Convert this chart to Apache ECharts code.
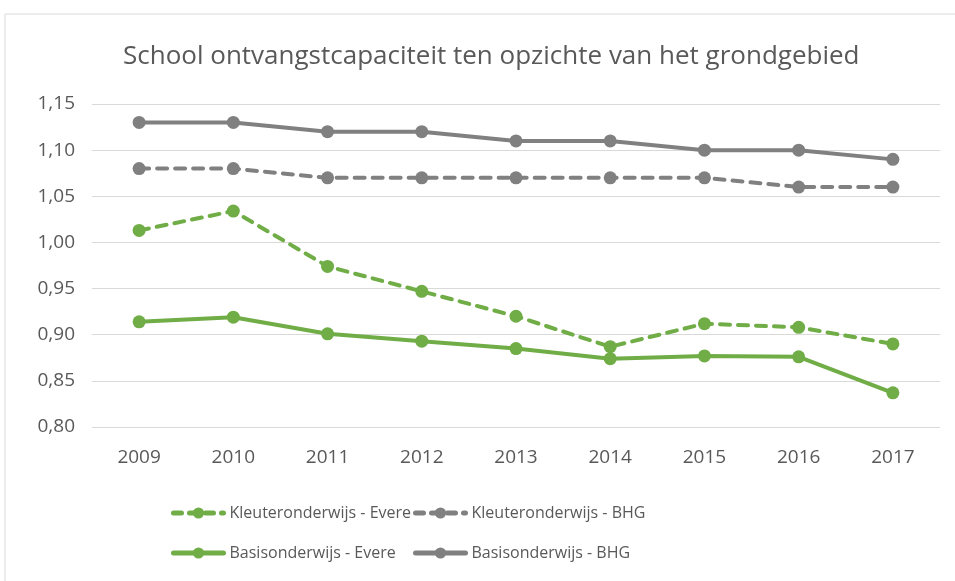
<!DOCTYPE html>
<html>
<head>
<meta charset="utf-8">
<script src="https://cdn.jsdelivr.net/npm/echarts@6/dist/echarts.min.js"></script>
<style>
html,body{margin:0;padding:0;background:#fff;}
#main{width:955px;height:581px;}
</style>
</head>
<body>
<div id="main"></div>
<script>
// data
var years = ['2009','2010','2011','2012','2013','2014','2015','2016','2017'];
var kleuterEvere = [1.013, 1.034, 0.974, 0.947, 0.920, 0.887, 0.912, 0.908, 0.890];
var kleuterBHG = [1.08, 1.08, 1.07, 1.07, 1.07, 1.07, 1.07, 1.06, 1.06];
var basisEvere = [0.914, 0.919, 0.901, 0.893, 0.885, 0.874, 0.877, 0.876, 0.837];
var basisBHG = [1.13, 1.13, 1.12, 1.12, 1.11, 1.11, 1.10, 1.10, 1.09];

var green = '#70ad47', grey = '#808080', txt = '#595959';
var font = '"Open Sans", sans-serif';

var myChart = echarts.init(document.getElementById('main'));

function mkSeries(name, data, color, dashed){
	return {
		name: name,
		type: 'line',
		data: data,
		symbol: 'circle',
		symbolSize: 13,
		itemStyle: {color: color},
		lineStyle: {color: color, width: 4, type: dashed ? [10, 8] : 'solid', cap: 'round'},
		animation: false
	}
}
function mkLegend(name, left, top, dashed){
	return {
		data: [name], left: left, top: top,
		itemWidth: 50, itemHeight: 14, itemGap: 0,
		lineStyle: {width: 5, type: dashed ? [8, 8] : 'solid', cap: 'round'},
		textStyle: {color: txt, fontSize: 16, fontFamily: font, padding: [0,0,0,1]}
	}
}

var option = {
	backgroundColor: '#fff',
	title: {
		text: 'School ontvangstcapaciteit ten opzichte van het grondgebied',
		left: 118, top: 39,
		textStyle: {color: txt, fontSize: 26, fontWeight: 'normal', fontFamily: font}
	},
	graphic: [{
		type: 'rect', shape: {x: 5, y: 14, width: 960, height: 580},
		style: {fill: 'none', stroke: '#d9d9d9', lineWidth: 1}, silent: true
	}],
	legend: [
		mkLegend('Kleuteronderwijs - Evere', 166, 500, true),
		mkLegend('Kleuteronderwijs - BHG', 408, 500, true),
		mkLegend('Basisonderwijs - Evere', 166, 540, false),
		mkLegend('Basisonderwijs - BHG', 408, 540, false)
	],
	grid: {left: 92, right: 15, top: 104, bottom: 154},
	xAxis: {
		type: 'category',
		data: years,
		boundaryGap: true,
		axisLine: {show: false},
		axisTick: {show: false},
		axisLabel: {color: txt, fontSize: 19, fontFamily: font, margin: 21}
	},
	yAxis: {
		type: 'value',
		min: 0.8, max: 1.15, interval: 0.05,
		axisLine: {show: false},
		axisTick: {show: false},
		splitLine: {lineStyle: {color: '#d9d9d9', width: 1}},
		axisLabel: {
			color: txt, fontSize: 19, fontFamily: font, margin: 17,
			formatter: function(v){ return v.toFixed(2).replace('.', ',') }
		}
	},
	series: [
		mkSeries('Kleuteronderwijs - Evere', kleuterEvere, green, true),
		mkSeries('Kleuteronderwijs - BHG', kleuterBHG, grey, true),
		mkSeries('Basisonderwijs - Evere', basisEvere, green, false),
		mkSeries('Basisonderwijs - BHG', basisBHG, grey, false)
	]
};
myChart.setOption(option);
</script>
</body>
</html>
